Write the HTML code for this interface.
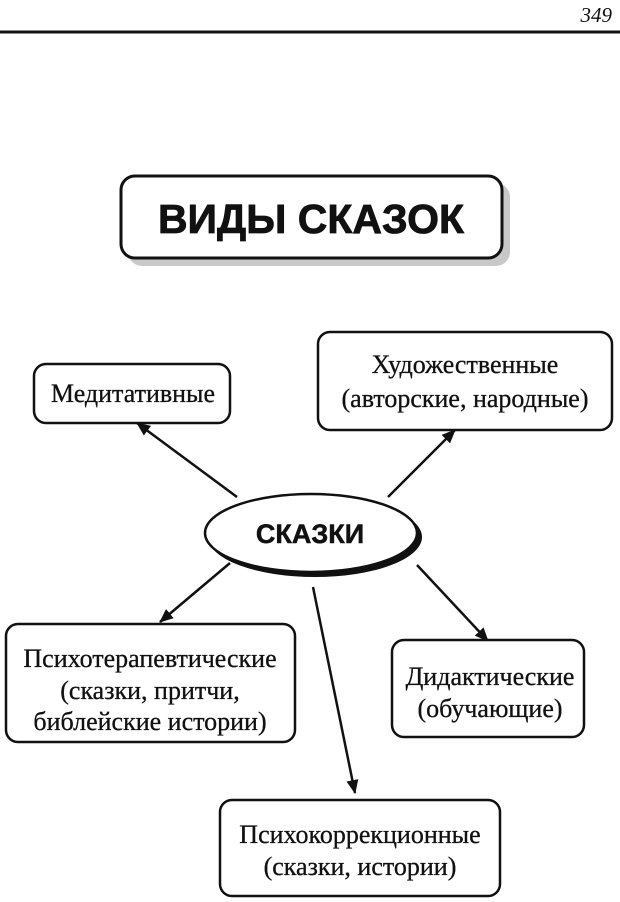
<!DOCTYPE html>
<html><head><meta charset="utf-8"><style>
html,body{margin:0;padding:0;background:#fff;}
svg{display:block;}
.s{font-family:"Liberation Serif","DejaVu Serif",serif;font-size:26px;fill:#111;stroke:#111;stroke-width:0.3;}
.b{font-family:"Liberation Sans",sans-serif;font-weight:bold;fill:#111;}
</style></head><body>
<svg width="620" height="902" viewBox="0 0 620 902" xmlns="http://www.w3.org/2000/svg">
<defs><marker id="a" markerWidth="14" markerHeight="12" refX="13" refY="6" orient="auto" markerUnits="userSpaceOnUse"><path d="M0,0 L14,6 L0,12 Z" fill="#111"/></marker></defs>
<text x="612" y="22" text-anchor="end" style="font-family:'Liberation Serif',serif;font-style:italic;font-size:21px;fill:#111">349</text>
<line x1="0" y1="32" x2="620" y2="32" stroke="#111" stroke-width="3"/>
<!-- title -->
<rect x="128" y="183" width="382" height="83" rx="14" fill="#c8c8c8"/>
<rect x="121" y="176" width="381" height="82" rx="14" fill="#fff" stroke="#111" stroke-width="3"/>
<text x="311" y="233" text-anchor="middle" class="b" font-size="41" stroke="#111" stroke-width="0.8">ВИДЫ СКАЗОК</text>
<!-- arrows -->
<g stroke="#111" stroke-width="2.5" fill="none">
<line x1="237" y1="497" x2="137" y2="423" marker-end="url(#a)"/>
<line x1="388" y1="497" x2="455" y2="430" marker-end="url(#a)"/>
<line x1="230" y1="563" x2="160" y2="622" marker-end="url(#a)"/>
<line x1="417" y1="565" x2="488" y2="641" marker-end="url(#a)"/>
<line x1="313" y1="587" x2="355" y2="793" marker-end="url(#a)"/>
</g>
<!-- ellipse -->
<ellipse cx="315" cy="537" rx="107" ry="40" fill="#111"/>
<ellipse cx="311" cy="533" rx="106" ry="39" fill="#fff" stroke="#111" stroke-width="2.5"/>
<text x="310" y="543" text-anchor="middle" class="b" font-size="27" stroke="#111" stroke-width="0.5">СКАЗКИ</text>
<!-- boxes -->
<g fill="#fff" stroke="#111" stroke-width="2.5">
<rect x="34" y="364" width="196" height="59" rx="12"/>
<rect x="318" y="332" width="294" height="98" rx="12"/>
<rect x="6" y="624" width="289" height="118" rx="12"/>
<rect x="392" y="640" width="192" height="97" rx="12"/>
<rect x="220" y="800" width="280" height="96" rx="12"/>
</g>
<g class="s" text-anchor="middle">
<text x="133" y="402">Медитативные</text>
<text x="465" y="373">Художественные</text>
<text x="465" y="407">(авторские, народные)</text>
<text x="150" y="667">Психотерапевтические</text>
<text x="150" y="699">(сказки, притчи,</text>
<text x="150" y="730">библейские истории)</text>
<text x="490" y="685">Дидактические</text>
<text x="490" y="717">(обучающие)</text>
<text x="360" y="843">Психокоррекционные</text>
<text x="360" y="875">(сказки, истории)</text>
</g>
</svg>
</body></html>
